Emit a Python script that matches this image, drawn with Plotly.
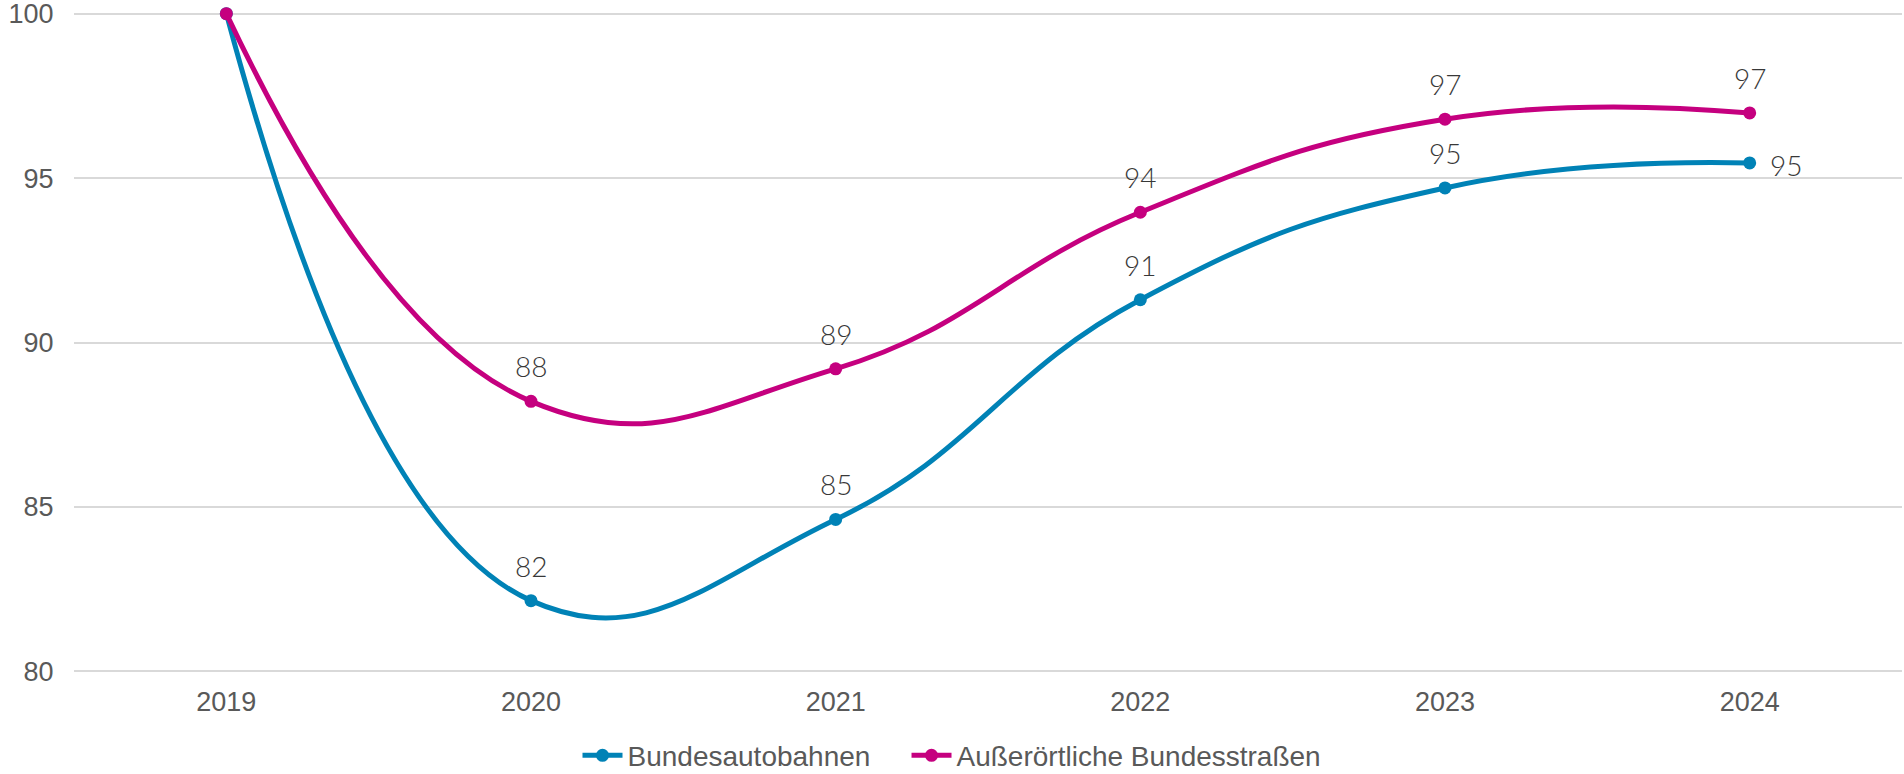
import plotly.graph_objects as go

years = ["2019", "2020", "2021", "2022", "2023", "2024"]
autobahn = [100.0, 82.15, 84.62, 91.30, 94.70, 95.46]
bundesstr = [100.0, 88.21, 89.20, 93.96, 96.79, 96.98]
series_names = ["Bundesautobahnen", "Außerörtliche Bundesstraßen"]
y_ticks = [80, 85, 90, 95, 100]

BLUE = "#0082B6"
MAGENTA = "#C5007F"
LABEL_FONT = dict(family="Lato", size=28, color="#383838", weight=300)
# invisible padding after the first legend entry to widen the gap between items
legend_pad = ["\u00a0" * 4, ""]

fig = go.Figure()
for name, pad, vals, col in [(series_names[0], legend_pad[0], autobahn, BLUE),
                             (series_names[1], legend_pad[1], bundesstr, MAGENTA)]:
    fig.add_trace(go.Scatter(
        x=years, y=vals, name=name + pad, mode="lines+markers",
        line=dict(color=col, width=5, shape="spline", smoothing=1.3),
        marker=dict(color=col, size=13),
        cliponaxis=False, hoverinfo="skip",
    ))

annotations = []
for vals, skip_last in [(autobahn, True), (bundesstr, False)]:
    for i, v in enumerate(vals):
        if i == 0:
            continue
        if skip_last and i == len(years) - 1:
            annotations.append(dict(x=i, y=v, text=f"{round(v)}", showarrow=False,
                                    xanchor="center", yanchor="middle", xshift=36, yshift=-2,
                                    font=LABEL_FONT))
        else:
            annotations.append(dict(x=i, y=v, text=f"{round(v)}", showarrow=False,
                                    xanchor="center", yanchor="bottom", yshift=16,
                                    font=LABEL_FONT))

fig.update_layout(
    width=1904, height=774,
    margin=dict(l=74, r=2, t=12, b=101, autoexpand=False),
    plot_bgcolor="white", paper_bgcolor="white",
    font=dict(family="Liberation Sans, Arial", color="#595959", size=27),
    xaxis=dict(type="category", range=[-0.5, len(years) - 0.5], showgrid=False,
               showline=False, zeroline=False, automargin=False,
               ticks="outside", ticklen=5, tickcolor="rgba(0,0,0,0)",
               tickfont=dict(size=27, color="#595959")),
    yaxis=dict(range=[79.95, 100.05], tickvals=y_ticks, showgrid=True, gridcolor="#D9D9D9",
               gridwidth=1.5, zeroline=False, showline=False, ticklabeloverflow="allow",
               automargin=False,
               ticks="outside", ticklen=14, tickcolor="rgba(0,0,0,0)",
               tickfont=dict(size=27, color="#595959")),
    legend=dict(orientation="h", xref="container", x=0.5, xanchor="center",
                y=-0.125, yanchor="middle",
                font=dict(size=28, color="#595959"), itemwidth=40),
    annotations=annotations,
    showlegend=True,
)

fig.write_html("out.html", config={"displayModeBar": False},
               post_script="document.body.style.margin='0';")
